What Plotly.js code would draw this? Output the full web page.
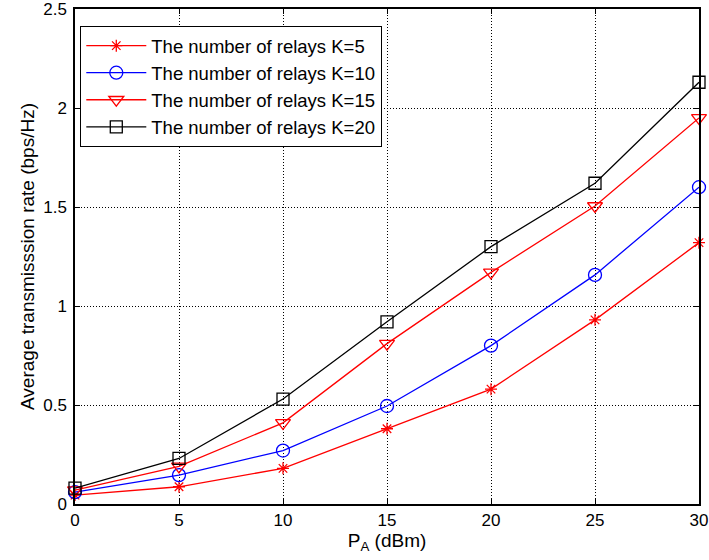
<!DOCTYPE html>
<html><head><meta charset="utf-8">
<script src="https://cdn.plot.ly/plotly-3.0.1.min.js"></script>
<style>body{margin:0;background:#fff}#c{width:709px;height:560px}</style>
</head><body><div id="c"></div>
<script>
const pa = [0, 5, 10, 15, 20, 25, 30];
const k5  = [0.045, 0.087, 0.18, 0.38, 0.58, 0.93, 1.32];
const k10 = [0.06, 0.146, 0.27, 0.495, 0.80, 1.157, 1.60];
const k15 = [0.07, 0.19, 0.41, 0.81, 1.17, 1.505, 1.95];
const k20 = [0.08, 0.23, 0.53, 0.92, 1.30, 1.62, 2.13];
const names = ['The number of relays K=5','The number of relays K=10','The number of relays K=15','The number of relays K=20'];
const xTicks = [0,5,10,15,20,25,30];
const yTicks = [0,0.5,1,1.5,2,2.5];
const yTickText = ['0','0.5','1','1.5','2','2.5'];

function tr(y, name, color, symbol, size){
  return {x: pa, y: y, name: name, type:'scatter', mode:'lines+markers', cliponaxis:false,
    line:{color:color, width:1.3},
    marker:{symbol:symbol, size:size, color:color, line:{color:color, width:1.3}}};
}
const data = [
  tr(k5, names[0], '#ff0000', 'asterisk-open', 10),
  tr(k10, names[1], '#0000ff', 'circle-open', 13),
  tr(k15, names[2], '#ff0000', 'triangle-down-open', 13),
  tr(k20, names[3], '#000000', 'square-open', 12)
];
const FF = 'Liberation Sans, Arial, sans-serif';
const ax = {showline:true, mirror:'ticks', linecolor:'#000', linewidth:1.5,
  ticks:'inside', ticklen:5, tickcolor:'#000', zeroline:false,
  showgrid:true, gridcolor:'#000', griddash:'1px,2px', gridwidth:1,
  ticklabeloverflow:'allow',
  tickfont:{family:FF, size:17, color:'#000'}};
const layout = {
  width:709, height:560, paper_bgcolor:'#fff', plot_bgcolor:'#fff',
  margin:{l:75, r:10, t:9, b:56},
  showlegend:true,
  font:{family:FF, color:'#000'},
  xaxis:Object.assign({}, ax, {range:[0,30], tickvals:xTicks, ticktext:xTicks.map(String),
    title:{text:'P<sub>A</sub> (dBm)', font:{family:FF, size:19, color:'#000'}, standoff:2}}),
  yaxis:Object.assign({}, ax, {range:[0,2.5], tickvals:yTicks, ticktext:yTickText,
    ticklabelstandoff:3,
    title:{text:'Average transmisssion rate (bps/Hz)', font:{family:FF, size:19, color:'#000'}, standoff:4}}),
  legend:{x:0.008, y:0.966, xanchor:'left', yanchor:'top', bgcolor:'#fff',
    bordercolor:'#000', borderwidth:1.3, font:{family:FF, size:18.5, color:'#000'},
    tracegroupgap:0, itemwidth:60}
};
Plotly.newPlot('c', data, layout, {displayModeBar:false});
</script></body></html>
